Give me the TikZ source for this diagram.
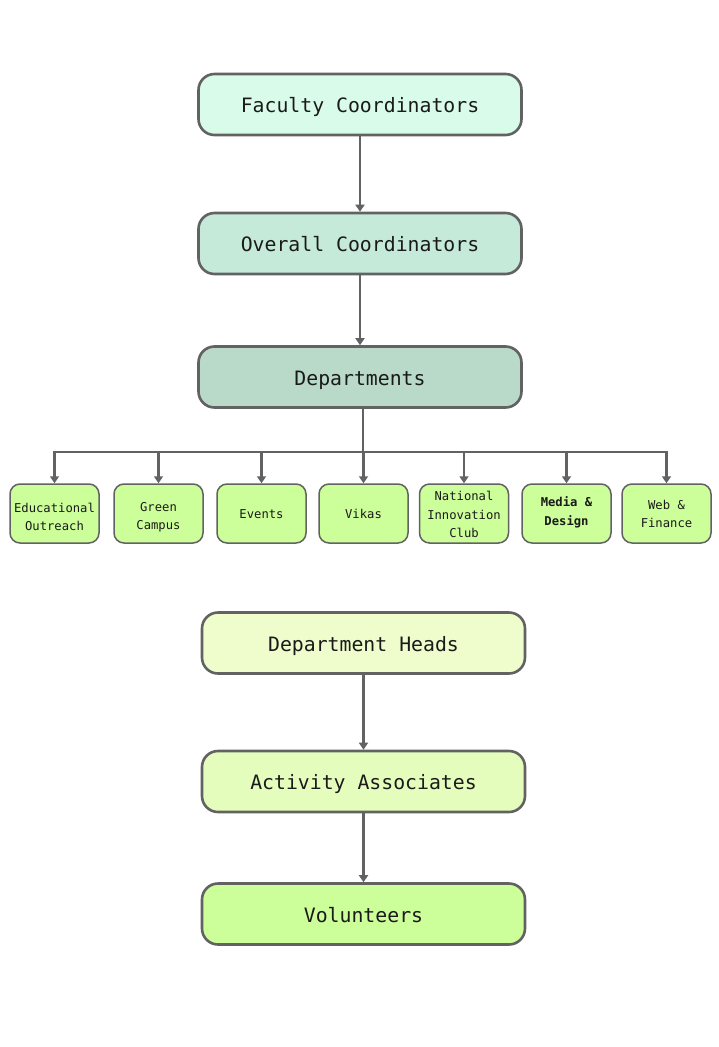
\documentclass[tikz,border=0pt]{standalone}
\usepackage{fontspec}
\setmonofont{DejaVu Sans Mono}
\usetikzlibrary{arrows.meta}
\definecolor{edge}{HTML}{626262}
\definecolor{cFac}{HTML}{D9FBEA}
\definecolor{cOvr}{HTML}{C6EAD9}
\definecolor{cDep}{HTML}{B9D9C9}
\definecolor{cHead}{HTML}{EEFDCB}
\definecolor{cAct}{HTML}{E4FDBD}
\definecolor{cVol}{HTML}{CCFE9A}
\definecolor{cSub}{HTML}{CCFF99}
\definecolor{ink}{HTML}{1A1A1A}
\newcommand{\substack}[1]{\begin{tabular}[t]{@{}c@{}}#1\end{tabular}}
\tikzset{
  bigbox/.style={draw=edge, line width=2.6pt, rounded corners=16pt, minimum width=323pt, minimum height=61pt, inner sep=0pt, text=ink, text height=19.6pt, text depth=3.6pt, font=\ttfamily\fontsize{19.8}{24}\selectfont},
  subbox/.style={draw=edge, line width=1.5pt, rounded corners=10pt, fill=cSub, minimum width=89pt, minimum height=59pt, inner sep=0pt, text=ink, font=\ttfamily\fontsize{12.2}{18.7}\selectfont},
  lift/.style={text height=0pt, text depth=#1},
  arr/.style={draw=edge, line width=2.5pt, -{Triangle[length=7pt,width=9pt]}},
  link/.style={draw=edge, line width=2.5pt},
}
\begin{document}
\begin{tikzpicture}[x=1pt,y=-1pt]
\useasboundingbox[fill=white] (0,0) rectangle (719,1047);
\node[bigbox, fill=cFac] (fac) at (360,104.5) {Faculty Coordinators};
\node[bigbox, fill=cOvr] (ovr) at (360,243.5) {Overall Coordinators};
\node[bigbox, fill=cDep] (dep) at (360,377) {Departments};

\node[subbox, lift=3pt] (edu) at (54.5,513.5) {\substack{Educational\\Outreach}};
\node[subbox, lift=5pt] (grn) at (158.5,513.5) {\substack{Green\\Campus}};
\node[subbox, text height=10.4pt, text depth=0pt] (evt) at (261.5,513.5) {Events};
\node[subbox, text height=10.4pt, text depth=0pt] (vik) at (363.5,513.5) {Vikas};
\node[subbox, lift=26pt] (nic) at (464,513.5) {\substack{National\\Innovation\\Club}};
\node[subbox, lift=13.6pt] (med) at (566.5,513.5) {\bfseries\substack{Media \&\\Design}};
\node[subbox, lift=9pt] (web) at (666.5,513.5) {\substack{Web \&\\Finance}};

\node[bigbox, fill=cHead] (head) at (363.5,643) {Department Heads};
\node[bigbox, fill=cAct] (act) at (363.5,781.5) {Activity Associates};
\node[bigbox, fill=cVol] (vol) at (363.5,914) {Volunteers};

\draw[arr] (fac) -- (ovr);
\draw[arr] (ovr) -- (dep);

\coordinate (bus) at (363,452);
\draw[link] (dep.south -| bus) -- (bus);
\draw[link, line cap=rect] (bus -| edu.north) -- (bus -| web.north);
\foreach \c in {edu,grn,evt,vik,nic,med,web}{
  \draw[arr] (bus -| \c.north) -- (\c.north);
}

\draw[arr] (head) -- (act);
\draw[arr] (act) -- (vol);
\end{tikzpicture}
\end{document}
